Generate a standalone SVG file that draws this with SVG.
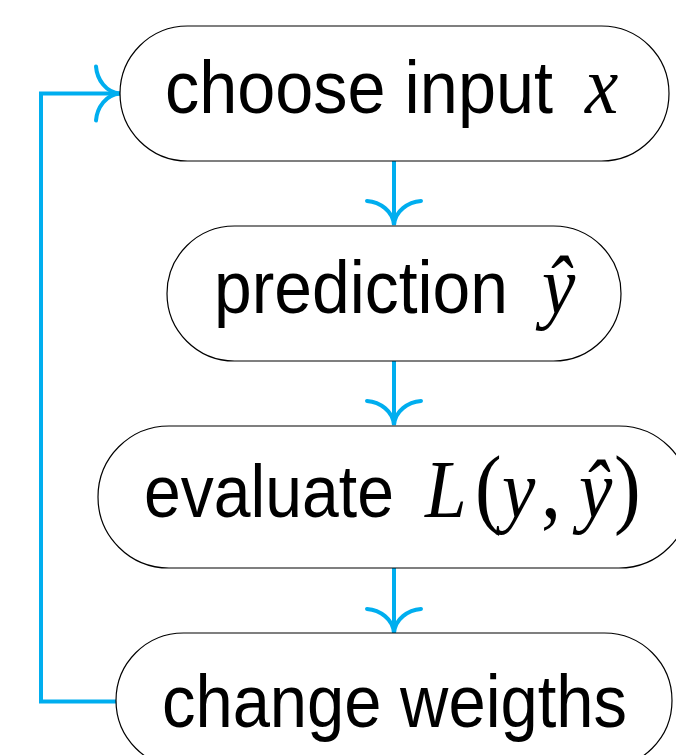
<svg xmlns="http://www.w3.org/2000/svg" width="676" height="755" viewBox="0 0 676 755">
<style>
.node{fill:#fff;stroke:#000;stroke-width:1.2}
.lbl{font-family:"Liberation Sans","Noto Sans",sans-serif;font-size:68px;fill:#000}
.math{font-family:"Liberation Serif","DejaVu Serif",serif;font-size:75px;font-style:italic}
.up{font-style:normal;font-size:80px}
.conn{fill:none;stroke:#00AEEF;stroke-width:4}
</style>
<defs>
<marker id="to" markerUnits="userSpaceOnUse" viewBox="-30 -30 60 60" markerWidth="60" markerHeight="60" refX="0" refY="0" orient="auto" overflow="visible">
<path d="M-24,-27 C-23,-14 -14,-1 0,0 C-14,1 -23,14 -24,27" fill="none" stroke="#00AEEF" stroke-width="4" stroke-linecap="round"/>
</marker>
</defs>
<rect width="676" height="755" fill="#fff"/>
<g id="connectors">
<path class="conn" d="M394,161 V225" marker-end="url(#to)"/>
<path class="conn" d="M394,361 V425" marker-end="url(#to)"/>
<path class="conn" d="M394,568 V633" marker-end="url(#to)"/>
<path class="conn" d="M116,701.5 H41 V93.5 H120" marker-end="url(#to)"/>
</g>
<g id="n1">
<rect class="node" x="120" y="26" width="549" height="135" rx="67.5"/>
<text class="lbl" x="165" y="0" transform="translate(0 113) scale(1 1.1)"><tspan textLength="388" lengthAdjust="spacingAndGlyphs">choose input</tspan><tspan class="math" x="585">x</tspan></text>
</g>
<g id="n2">
<rect class="node" x="167" y="226" width="454" height="135" rx="67.5"/>
<text class="lbl" x="214" y="0" transform="translate(0 313) scale(1 1.1)"><tspan textLength="294" lengthAdjust="spacingAndGlyphs">prediction</tspan><tspan class="math" x="542">ŷ</tspan></text>
</g>
<g id="n3">
<rect class="node" x="98" y="426" width="592" height="142" rx="71"/>
<text class="lbl" x="144" y="0" transform="translate(0 517) scale(1 1.1)"><tspan textLength="250" lengthAdjust="spacingAndGlyphs">evaluate</tspan><tspan class="math" x="425">L</tspan><tspan class="math up" x="475">(</tspan><tspan class="math" x="502">y</tspan><tspan class="math up" x="541">,</tspan><tspan class="math" x="579">ŷ</tspan><tspan class="math up" x="614">)</tspan></text>
</g>
<g id="n4">
<rect class="node" x="116" y="633" width="556" height="135" rx="67.5"/>
<text class="lbl" x="162" y="0" transform="translate(0 727) scale(1 1.1)" textLength="465" lengthAdjust="spacingAndGlyphs">change weigths</text>
</g>
</svg>
